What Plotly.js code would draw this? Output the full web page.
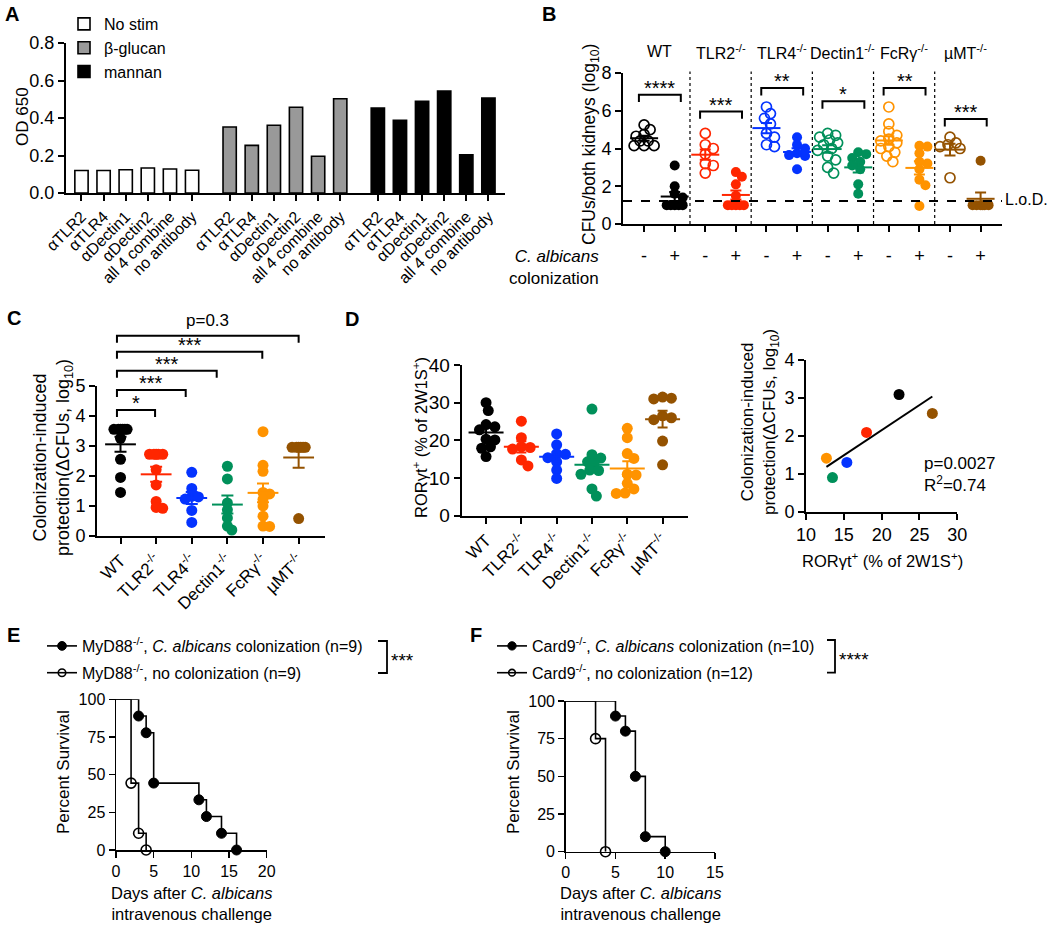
<!DOCTYPE html>
<html><head><meta charset="utf-8">
<script src="https://cdn.plot.ly/plotly-3.0.1.min.js"></script>
<style>body{margin:0;background:#fff}#chart{width:1050px;height:928px}</style>
</head><body><div id="chart"></div>
<script>
// ---------------- DATA ----------------
// Panel A
const A_antibodies = ['αTLR2','αTLR4','αDectin1','αDectin2','all 4 combine','no antibody'];
const A_series = ['No stim','β-glucan','mannan'];
const A_noStim  = [0.120, 0.120, 0.124, 0.133, 0.128, 0.121];
const A_bGlucan = [0.352, 0.254, 0.361, 0.457, 0.196, 0.503];
const A_mannan  = [0.453, 0.388, 0.489, 0.544, 0.204, 0.507];

// Shared genotype labels
const genotypes = ['WT','TLR2<sup>-/-</sup>','TLR4<sup>-/-</sup>','Dectin1<sup>-/-</sup>','FcRγ<sup>-/-</sup>','µMT<sup>-/-</sup>'];

// Panel B (log10 CFUs), no colonization (-) and colonization (+)
const B_colonization = ['-','+'];
const B_WT_no   = [5.25,5.0,4.75,4.65,4.4,4.4,4.15,4.15,4.15];
const B_WT_col  = [3.1,2.0,1.6,1.4,1.0,1.0,1.0,1.0,1.0];
const B_TLR2_no  = [4.8,4.2,4.0,3.7,3.2,3.1,2.7];
const B_TLR2_col = [2.75,2.5,2.1,1.5,1.0,1.0,1.0,1.0,1.0];
const B_TLR4_no  = [6.2,5.85,5.6,5.3,4.8,4.6,4.2,4.1];
const B_TLR4_col = [4.6,4.2,4.0,3.75,3.65,3.6,2.9];
const B_Dectin1_no  = [4.8,4.7,4.6,4.45,4.3,4.2,4.0,3.9,3.6,3.4,3.0,2.7];
const B_Dectin1_col = [3.8,3.7,3.5,3.3,3.1,2.9,2.1,1.6];
const B_FcRg_no  = [6.2,5.3,4.9,4.7,4.5,4.4,4.3,4.1,4.0,3.8,3.6,3.3];
const B_FcRg_col = [4.15,4.1,3.75,3.3,3.2,2.9,2.35,2.05,0.95];
const B_uMT_no  = [4.6,4.3,4.2,4.1,4.0,2.45];
const B_uMT_col = [3.35,1.0,1.0,1.0,1.0,1.0,1.0];
const B_lod = 1.22;
const B_sigText  = ['****','***','**','*','**','***'];
const B_sigLevel = [6.85,5.96,7.2,6.5,7.2,5.56];

// Panel C (colonization-induced protection)
const C_WT      = [3.55,3.55,3.55,3.55,3.55,3.55,3.25,2.55,1.95,1.45];
const C_TLR2    = [2.72,2.72,2.72,2.72,2.72,2.2,1.7,1.15,0.95,0.92];
const C_TLR4    = [2.12,1.58,1.32,1.3,1.23,0.85,0.45];
const C_Dectin1 = [2.32,1.9,1.1,0.87,0.6,0.33,0.2];
const C_FcRg    = [3.47,2.35,2.15,1.45,1.4,1.22,1.0,0.66,0.33,0.32];
const C_uMT     = [2.95,2.95,2.95,2.95,2.95,2.95,0.58];
const C_sigText  = ['*','***','***','***','p=0.3'];
const C_sigLevel = [4.19,4.86,5.5,6.13,6.66];
const C_sigEnd   = [0.97,1.83,2.7,3.98,5.0];

// Panel D left (RORγt+ % of 2W1S+)
const D_WT      = [30.0,27.9,24.2,23.6,22.8,20.3,20.1,18.3,17.9,15.7];
const D_TLR2    = [25.1,20.7,18.3,18.1,17.7,14.8,13.2];
const D_TLR4    = [21.7,18.8,16.5,16.3,15.4,14.3,12.1,9.9];
const D_Dectin1 = [28.3,16.2,15.3,14.3,14.0,12.1,12.0,11.0,7.1,5.2];
const D_FcRg    = [23.2,20.7,16.5,15.2,11.0,10.8,8.6,7.1,6.0,5.9];
const D_uMT     = [31.5,31.2,31.0,26.5,26.0,25.5,19.8,13.5];

// Panel D right (correlation of group means)
const Dr_ror  = [22.3,18.0,15.4,13.5,12.7,26.7];
const Dr_prot = [3.09,2.09,1.30,0.90,1.41,2.59];
const Dr_stats = 'p=0.0027<br>R<sup>2</sup>=0.74';

// Panel E (MyD88-/- survival)
const E_colDays = [0,3,4,5,11,12,14,16];
const E_colSurv = [100,88.9,77.8,44.4,33.3,22.2,11.1,0];
const E_noDays  = [0,2,3,4];
const E_noSurv  = [100,44.4,11.1,0];
const E_names = ['MyD88<sup>-/-</sup>, <i>C. albicans</i> colonization (n=9)','MyD88<sup>-/-</sup>, no colonization (n=9)'];
const E_sig = '***';

// Panel F (Card9-/- survival)
const F_colDays = [0,5,6,7,8,10];
const F_colSurv = [100,90,80,50,10,0];
const F_noDays  = [0,3,4];
const F_noSurv  = [100,75,0];
const F_names = ['Card9<sup>-/-</sup>, <i>C. albicans</i> colonization (n=10)','Card9<sup>-/-</sup>, no colonization (n=12)'];
const F_sig = '****';

// ---------------- STYLE / LAYOUT ----------------
const W = 1050, H = 928;
const FONT = 'Arial, "Liberation Sans", Helvetica, sans-serif';
const colors = ['#000000','#FF2600','#0433FF','#00905A','#FF9300','#945200'];
const xd = (a,b) => [a/W, b/W];
const yd = (top,bottom) => [1-bottom/H, 1-top/H];
const px = v => v/W, py = v => 1 - v/H;

function axis(extra){
  return Object.assign({showline:true, linewidth:2, linecolor:'#000', ticks:'outside', ticklen:6,
    tickwidth:2, tickcolor:'#000', showgrid:false, zeroline:false, fixedrange:true,
    tickfont:{size:18, color:'#000'}}, extra);
}
function meanSem(a){
  const n=a.length, m=a.reduce((s,v)=>s+v,0)/n;
  const sd=Math.sqrt(a.reduce((s,v)=>s+(v-m)*(v-m),0)/(n-1));
  return [m, sd/Math.sqrt(n)];
}
// simple beeswarm: horizontal offsets (in x units) so markers don't pile up
function swarm(vals, pxX, pxY, diam, f, maxOff){
  const order = vals.map((v,i)=>i).sort((a,b)=>vals[b]-vals[a]);
  const placed = [], out = new Array(vals.length).fill(0);
  const step = diam*0.2, minD = diam*f;
  for (const i of order){
    const y = vals[i]*pxY;
    let bestX=0, bestScore=-Infinity;
    const kmax = Math.ceil(maxOff/step)*2;
    for (let k=0;k<=kmax;k++){
      const m = Math.ceil(k/2)*(k%2===1?1:-1);
      const x = m*step;
      if (Math.abs(x)>maxOff+1e-9) continue;
      let dmin = Infinity;
      for (const p of placed) dmin = Math.min(dmin, Math.hypot(x-p.x, y-p.y));
      if (dmin>=minD){ bestX=x; bestScore=Infinity; break; }
      if (dmin>bestScore){ bestScore=dmin; bestX=x; }
    }
    placed.push({x:bestX,y});
    out[i]=bestX/pxX;
  }
  return out;
}

const layout = {
  width:W, height:H, margin:{l:0,r:0,t:0,b:0}, paper_bgcolor:'#fff', plot_bgcolor:'rgba(0,0,0,0)',
  font:{family:FONT, color:'#000', size:16}, showlegend:true,
  shapes:[], annotations:[]
};

// axes
const rA=[-0.7,19.15], rB=[-0.69,11.7], rC=[-0.66,5.74], rD=[-0.69,5.72];
const A_pos = []; const A_tickText = [];
for (let g=0; g<3; g++) for (let i=0;i<6;i++){ A_pos.push(g*6.7+i); A_tickText.push(A_antibodies[i]); }
layout.xaxis  = axis({domain:xd(66,505), anchor:'y', range:rA, tickmode:'array', tickvals:A_pos, ticktext:A_tickText, tickangle:-45, tickfont:{size:16}});
layout.yaxis  = axis({domain:yd(43,193), anchor:'x', range:[0,0.8], dtick:0.2, tickformat:'.1f'});
const B_ticks = [], B_tickText=[];
for (let g=0; g<6; g++) for (let c=0;c<2;c++){ B_ticks.push(2*g+c); B_tickText.push(B_colonization[c]); }
layout.xaxis2 = axis({domain:xd(623,1002), anchor:'y2', range:rB, tickmode:'array', tickvals:B_ticks, ticktext:B_tickText, ticklabelstandoff:8, tickfont:{size:18}});
layout.yaxis2 = axis({domain:yd(73,224), anchor:'x2', range:[0,8], dtick:2});
layout.xaxis3 = axis({domain:xd(97,325), anchor:'y3', range:rC, tickmode:'array', tickvals:[0,1,2,3,4,5], ticktext:genotypes, tickangle:-45, tickfont:{size:17}});
layout.yaxis3 = axis({domain:yd(385.7,536), anchor:'x3', range:[0,5], dtick:1});
layout.xaxis4 = axis({domain:xd(461.7,688), anchor:'y4', range:rD, tickmode:'array', tickvals:[0,1,2,3,4,5], ticktext:genotypes, tickangle:-45, tickfont:{size:17}});
layout.yaxis4 = axis({domain:yd(365,515.7), anchor:'x4', range:[0,40], dtick:10, tickfont:{size:19}});
layout.xaxis5 = axis({domain:xd(806,957.3), anchor:'y5', range:[10,30], dtick:5});
layout.yaxis5 = axis({domain:yd(360,511.7), anchor:'x5', range:[0,4], dtick:1});
layout.xaxis6 = axis({domain:xd(116,266.7), anchor:'y6', range:[0,20], dtick:5, linewidth:1.5, tickwidth:1.5, tickfont:{size:16}});
layout.yaxis6 = axis({domain:yd(699.3,850), anchor:'x6', range:[0,100], dtick:25, linewidth:1.5, tickwidth:1.5, tickfont:{size:16}});
layout.xaxis7 = axis({domain:xd(565.7,715), anchor:'y7', range:[0,15], dtick:5, linewidth:1.5, tickwidth:1.5, tickfont:{size:16}});
layout.yaxis7 = axis({domain:yd(701,851.7), anchor:'x7', range:[0,100], dtick:25, linewidth:1.5, tickwidth:1.5, tickfont:{size:16}});

function axName(a){ return a.startsWith('x') ? 'xaxis'+a.slice(1) : 'yaxis'+a.slice(1); }
function pxPer(ax){ const a=layout[ax]; return (a.domain[1]-a.domain[0])*(ax.startsWith('x')?W:H)/(a.range[1]-a.range[0]); }

const traces = [];

// ---- Panel A bars
const A_vals = [A_noStim, A_bGlucan, A_mannan];
const A_fill = ['#ffffff','#999999','#000000'];
for (let g=0; g<3; g++){
  traces.push({type:'bar', x:A_pos.slice(g*6,g*6+6), y:A_vals[g], width:0.6, name:A_series[g],
    marker:{color:A_fill[g], line:{color:'#000', width:1.6}}, xaxis:'x', yaxis:'y', legend:'legend', hoverinfo:'skip'});
}
layout.legend = {x:px(64), y:py(7), xanchor:'left', yanchor:'top', bgcolor:'rgba(0,0,0,0)', font:{size:16}, tracegroupgap:0, itemclick:false};

// ---- helpers for dot plots
function addMean(arr, x, xa, ya, col, len, cap){
  const [m,se] = meanSem(arr);
  traces.push({type:'scatter', mode:'markers', x:[x], y:[m], xaxis:xa, yaxis:ya, showlegend:false, hoverinfo:'skip', cliponaxis:false,
    marker:{symbol:'line-ew', size:len, color:col, line:{width:2, color:col}},
    error_y:{type:'data', array:[se], visible:true, color:col, thickness:2, width:cap}});
}
function addDots(arr, x0, xa, ya, col, open, diam, f, maxOff){
  const offs = swarm(arr, pxPer(axName(xa)), pxPer(axName(ya)), diam, f, maxOff);
  traces.push({type:'scatter', mode:'markers', x:offs.map(o=>x0+o), y:arr, xaxis:xa, yaxis:ya, showlegend:false, hoverinfo:'skip', cliponaxis:false,
    marker: open ? {symbol:'circle-open', size:diam, color:col, opacity:1, line:{width:1.7, color:col}} : {symbol:'circle', size:diam, color:col, opacity:1, line:{width:0}}});
}

// ---- Panel B
const B_no  = [B_WT_no, B_TLR2_no, B_TLR4_no, B_Dectin1_no, B_FcRg_no, B_uMT_no];
const B_col = [B_WT_col, B_TLR2_col, B_TLR4_col, B_Dectin1_col, B_FcRg_col, B_uMT_col];
for (let g=0; g<6; g++){
  addDots(B_no[g], 2*g, 'x2','y2', colors[g], true, 10, 0.72, 10);
  addDots(B_col[g], 2*g+1, 'x2','y2', colors[g], false, 10, 0.72, 10);
}
for (let g=0; g<6; g++){
  addMean(B_no[g], 2*g, 'x2','y2', colors[g], 20, 5.5);
  addMean(B_col[g], 2*g+1, 'x2','y2', colors[g], 20, 5.5);
}
for (let k=0;k<5;k++){
  layout.shapes.push({type:'line', xref:'x2', yref:'y2 domain', x0:2*k+1.5, x1:2*k+1.5, y0:0, y1:1.01, line:{color:'#000', width:1.2, dash:'dot'}});
}
layout.shapes.push({type:'line', xref:'x2 domain', yref:'y2', x0:0, x1:1, y0:B_lod, y1:B_lod, line:{color:'#000', width:2, dash:'dash'}});
for (let g=0; g<6; g++){
  const a=2*g-0.17, b=2*g+1.2, l=B_sigLevel[g], d=0.39;
  layout.shapes.push({type:'path', xref:'x2', yref:'y2', path:`M${a},${l-d}L${a},${l}L${b},${l}L${b},${l-d}`, line:{color:'#000', width:2}});
  layout.annotations.push({xref:'x2', yref:'y2', x:(a+b)/2, y:l, text:B_sigText[g], showarrow:false, yanchor:'bottom', yshift:-6, font:{size:20}});
  layout.annotations.push({xref:'x2', yref:'paper', x:2*g+0.5, y:py(52), text:genotypes[g], showarrow:false, yanchor:'middle', font:{size:16}});
}
layout.annotations.push({xref:'paper', yref:'paper', x:px(1003), y:py(200), text:'L.o.D.', showarrow:false, xanchor:'left', yanchor:'middle', font:{size:16}});
layout.annotations.push({xref:'paper', yref:'paper', x:px(601), y:py(268), text:'<i>C. albicans</i><br>colonization', align:'right', showarrow:false, xanchor:'right', yanchor:'middle', font:{size:17}});

// ---- Panel C
const C_all = [C_WT, C_TLR2, C_TLR4, C_Dectin1, C_FcRg, C_uMT];
for (let g=0; g<6; g++) addDots(C_all[g], g, 'x3','y3', colors[g], false, 11, 0.5, 8);
for (let g=0; g<6; g++) addMean(C_all[g], g, 'x3','y3', colors[g], 22, 6);
{
  const dom = layout.yaxis3.domain, yr = layout.yaxis3.range;
  const toP = v => dom[0] + (v-yr[0])/(yr[1]-yr[0])*(dom[1]-dom[0]);
  const drop = 7/H;
  for (let k=0;k<5;k++){
    const a=-0.1, b=C_sigEnd[k], l=toP(C_sigLevel[k]);
    layout.shapes.push({type:'path', xref:'x3', yref:'paper', path:`M${a},${l-drop}L${a},${l}L${b},${l}L${b},${l-drop}`, line:{color:'#000', width:2}});
    const isP = C_sigText[k].startsWith('p');
    layout.annotations.push({xref:'x3', yref:'paper', x:(a+b)/2, y:l, text:C_sigText[k], showarrow:false, yanchor:'bottom', yshift: isP?4:-6, font:{size: isP?17:20}});
  }
}

// ---- Panel D left
const D_all = [D_WT, D_TLR2, D_TLR4, D_Dectin1, D_FcRg, D_uMT];
for (let g=0; g<6; g++) addDots(D_all[g], g, 'x4','y4', colors[g], false, 11, 0.72, 11);
for (let g=0; g<6; g++) addMean(D_all[g], g, 'x4','y4', colors[g], 25, 5);

// ---- Panel D right
{
  const n=Dr_ror.length, mx=Dr_ror.reduce((s,v)=>s+v,0)/n, my=Dr_prot.reduce((s,v)=>s+v,0)/n;
  let sxy=0,sxx=0; for(let i=0;i<n;i++){ sxy+=(Dr_ror[i]-mx)*(Dr_prot[i]-my); sxx+=(Dr_ror[i]-mx)**2; }
  const slope=sxy/sxx, icp=my-slope*mx;
  const x0=Math.min(...Dr_ror), x1=Math.max(...Dr_ror);
  traces.push({type:'scatter', mode:'lines', x:[x0,x1], y:[icp+slope*x0, icp+slope*x1], xaxis:'x5', yaxis:'y5', showlegend:false, hoverinfo:'skip', line:{color:'#000', width:2}});
}
traces.push({type:'scatter', mode:'markers', x:Dr_ror, y:Dr_prot, xaxis:'x5', yaxis:'y5', showlegend:false, hoverinfo:'skip', cliponaxis:false,
  marker:{symbol:'circle', size:11, color:colors, opacity:1}});
layout.annotations.push({xref:'paper', yref:'paper', x:px(922), y:py(474), text:Dr_stats, align:'left', showarrow:false, xanchor:'left', yanchor:'middle', font:{size:17}});

// ---- Panels E & F
function kmTrace(days, surv, name, open, xa, ya, leg, grp){
  return {type:'scatter', mode:'lines+markers', x:days, y:surv, name:name, legend:leg, legendgroup:grp, xaxis:xa, yaxis:ya, cliponaxis:false, hoverinfo:'skip',
    line:{shape:'hv', color:'#000', width:1.6},
    marker: open ? {symbol:'circle-open', size:days.map((d,i)=>i===0?0:10), opacity:1, color:'#000', line:{width:1.6,color:'#000'}}
                 : {symbol:'circle', size:days.map((d,i)=>i===0?0:10), opacity:1, color:'#000', line:{width:1,color:'#000'}}};
}
traces.push(kmTrace(E_colDays, E_colSurv, E_names[0], false, 'x6','y6','legend2','e1'));
traces.push(kmTrace(E_noDays, E_noSurv, E_names[1], true, 'x6','y6','legend2','e2'));
traces.push(kmTrace(F_colDays, F_colSurv, F_names[0], false, 'x7','y7','legend3','f1'));
traces.push(kmTrace(F_noDays, F_noSurv, F_names[1], true, 'x7','y7','legend3','f2'));
layout.legend2 = {x:px(42), y:py(629), xanchor:'left', yanchor:'top', bgcolor:'rgba(0,0,0,0)', font:{size:16}, tracegroupgap:3, itemclick:false};
layout.legend3 = {x:px(492), y:py(629), xanchor:'left', yanchor:'top', bgcolor:'rgba(0,0,0,0)', font:{size:16}, tracegroupgap:3, itemclick:false};

function sigBracket(xLine, xStub, yTop, yBot, txt){
  layout.shapes.push({type:'path', xref:'paper', yref:'paper', path:`M${px(xStub)},${py(yTop)}L${px(xLine)},${py(yTop)}L${px(xLine)},${py(yBot)}L${px(xStub)},${py(yBot)}`, line:{color:'#000', width:1.8}});
  layout.annotations.push({xref:'paper', yref:'paper', x:px(xLine+2), y:py((yTop+yBot)/2), text:txt, showarrow:false, xanchor:'left', yanchor:'middle', yshift:-3, font:{size:19}});
}
sigBracket(387, 378, 641, 673, E_sig);
sigBracket(835, 827, 640, 672.7, F_sig);

// ---- Axis titles & panel letters
function ann(text, x, y, o){ layout.annotations.push(Object.assign({xref:'paper', yref:'paper', x:px(x), y:py(y), text:text, showarrow:false, xanchor:'center', yanchor:'middle'}, o||{})); }
ann('OD 650', 22, 117, {textangle:-90, font:{size:17}});
ann('CFUs/both kidneys (log<sub>10</sub>)', 590, 145, {textangle:-90, font:{size:17.5}});
ann('Colonization-induced<br>protection(ΔCFUs, log<sub>10</sub>)', 53, 458, {textangle:-90, font:{size:18}});
ann('RORγt<sup>+</sup> (% of 2W1S<sup>+</sup>)', 420, 438, {textangle:-90, font:{size:16.5}});
ann('Colonization-induced<br>protection(ΔCFUs, log<sub>10</sub>)', 760, 422, {textangle:-90, font:{size:17}});
ann('RORγt<sup>+</sup> (% of 2W1S<sup>+</sup>)', 882, 560, {font:{size:16.5}});
ann('Percent Survival', 63, 772, {textangle:-90, font:{size:17}});
ann('Percent Survival', 513, 772, {textangle:-90, font:{size:17}});
ann('Days after <i>C. albicans</i><br>intravenous challenge', 191, 903, {font:{size:16.5}});
ann('Days after <i>C. albicans</i><br>intravenous challenge', 640, 903, {font:{size:16.5}});
const letters = [['A',12,14],['B',549,14],['C',14,318],['D',352,319],['E',13,635],['F',476,635]];
for (const [t,x,y] of letters) ann('<b>'+t+'</b>', x, y, {font:{size:20}});

Plotly.newPlot('chart', traces, layout, {staticPlot:true, displayModeBar:false});
</script></body></html>
